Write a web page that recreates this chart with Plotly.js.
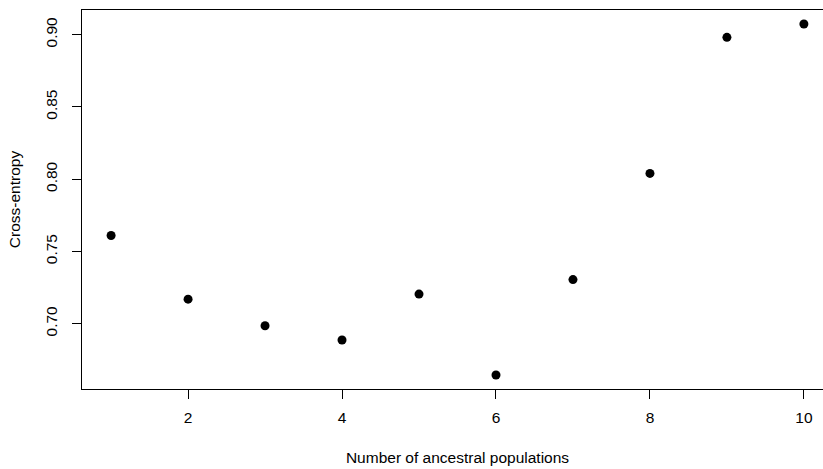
<!DOCTYPE html>
<html>
<head>
<meta charset="utf-8">
<script src="https://cdn.plot.ly/plotly-3.0.1.min.js"></script>
<style>
html,body{margin:0;padding:0;overflow:hidden;background:#fff;}
#chart{width:840px;height:469px;}
</style>
</head>
<body>
<div id="chart"></div>
<script>
const K = [1, 2, 3, 4, 5, 6, 7, 8, 9, 10];
const crossEntropy = [0.761, 0.717, 0.6986, 0.6887, 0.7205, 0.6645, 0.7305, 0.804, 0.8982, 0.9074];
const xTicks = [2, 4, 6, 8, 10];
const yTicks = [0.70, 0.75, 0.80, 0.85, 0.90];
const yTickLabels = ["0.70", "0.75", "0.80", "0.85", "0.90"];

const font = {family: "Liberation Sans, Arial, sans-serif", size: 15.5, color: "#000"};

Plotly.newPlot("chart", [{
  x: K, y: crossEntropy, type: "scatter", mode: "markers",
  marker: {color: "#000", size: 9},
  hoverinfo: "x+y"
}], {
  width: 840, height: 469,
  margin: {l: 82, r: 7, t: 10, b: 80},
  paper_bgcolor: "#fff", plot_bgcolor: "#fff",
  font: font,
  showlegend: false,
  xaxis: {
    range: [0.622, 10.378],
    tickvals: xTicks, ticktext: xTicks.map(String),
    ticks: "outside", ticklen: 9, tickwidth: 1, tickcolor: "#000",
    ticklabelstandoff: 5,
    showline: true, linecolor: "#000", linewidth: 1, mirror: true,
    showgrid: false, zeroline: false,
    tickfont: font,
    title: {text: "Number of ancestral populations", font: font, standoff: 27}
  },
  yaxis: {
    range: [0.6548, 0.9171],
    tickvals: yTicks, ticktext: yTickLabels,
    tickangle: -90,
    ticks: "outside", ticklen: 9, tickwidth: 1, tickcolor: "#000",
    ticklabelstandoff: 9,
    showline: true, linecolor: "#000", linewidth: 1, mirror: true,
    showgrid: false, zeroline: false,
    tickfont: font,
    title: {text: "Cross-entropy", font: font, standoff: 18}
  }
}, {displayModeBar: false});
</script>
</body>
</html>
